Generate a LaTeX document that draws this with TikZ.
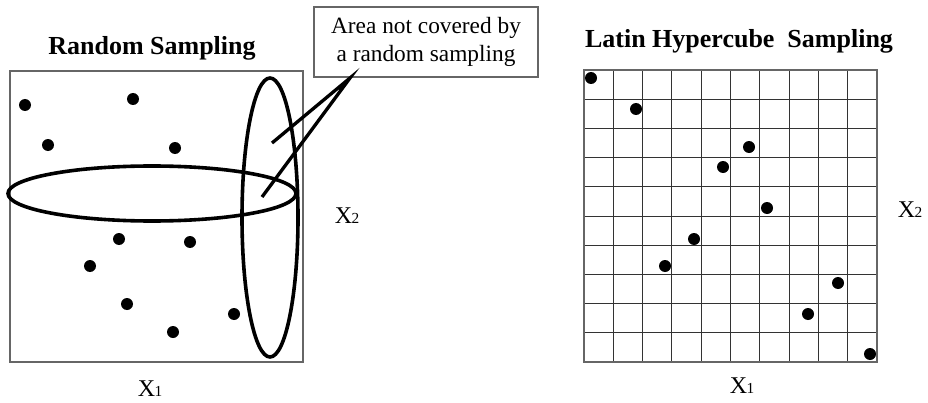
\documentclass[tikz,border=0pt]{standalone}
\usepackage{fontspec}
\usetikzlibrary{shapes.geometric}
\setmainfont{Liberation Serif}
\begin{document}
\begin{tikzpicture}[x=0.75pt,y=-0.75pt,
  frame/.style={draw=black!60,line width=0.8pt},
  gridline/.style={draw=black!80,line width=0.75pt},
  oval/.style={draw=black,line width=2.7pt},
  leader/.style={draw=black,line width=2.5pt},
  pt/.style={circle,fill=black,inner sep=0pt,minimum size=9pt},
  title/.style={font=\fontsize{19.5}{22}\selectfont\bfseries},
  axis/.style={font=\fontsize{18}{20}\selectfont,inner sep=0pt},
  note/.style={draw=black!60,line width=0.8pt,fill=white,font=\fontsize{17.5}{21}\selectfont,align=center,inner sep=0pt,minimum width=224*0.75pt,minimum height=70*0.75pt}
]
\useasboundingbox (0,0) rectangle (928,403);
\newcommand{\xsub}[1]{X\kern-0.5pt{\fontsize{11.5}{12}\selectfont #1}}
% ---------- left panel ----------
\node[title] (tl) at (152,48) {Random Sampling};
\draw[frame] (10,71) rectangle (303,362);
\node[pt] (a1) at (25,105) {};
\node[pt] (a2) at (133,99) {};
\node[pt] (a3) at (48,145) {};
\node[pt] (a4) at (175,148) {};
\node[pt] (a5) at (119,239) {};
\node[pt] (a6) at (190,242) {};
\node[pt] (a7) at (90,266) {};
\node[pt] (a8) at (127,304) {};
\node[pt] (a9) at (234,314) {};
\node[pt] (a10) at (173,332) {};
\node[oval,ellipse,minimum width=288*0.75pt,minimum height=55*0.75pt,inner sep=0pt] (eh) at (152,193.5) {};
\node[oval,ellipse,minimum width=56*0.75pt,minimum height=279*0.75pt,inner sep=0pt] (ev) at (270,217.5) {};
\node[note] (nt) at (426,42) {Area not covered by\\a random sampling};
\coordinate (tip) at (350,78);
\coordinate (e1) at (272,143);
\coordinate (e2) at (262,197);
\draw[leader] (e1) -- (tip) -- (e2);
\node[axis] (ly) at (347,216) {\xsub{2}};
\node[axis] (lx) at (150,389) {\xsub{1}};
% ---------- right panel ----------
\node[title] (tr) at (739,41) {Latin Hypercube\ \ Sampling};
\foreach \i in {1,...,9} {
  \draw[gridline] (584+29.3*\i,70) -- (584+29.3*\i,362);
  \draw[gridline] (584,70+29.2*\i) -- (877,70+29.2*\i);
}
\draw[frame] (584,70) rectangle (877,362);
\node[pt] (b1) at (591,78) {};
\node[pt] (b2) at (636,109) {};
\node[pt] (b3) at (749,147) {};
\node[pt] (b4) at (723,167) {};
\node[pt] (b5) at (767,208) {};
\node[pt] (b6) at (694,239) {};
\node[pt] (b7) at (665,266) {};
\node[pt] (b8) at (838,283) {};
\node[pt] (b9) at (808,314) {};
\node[pt] (b10) at (870,354) {};
\node[axis] (ry) at (910,210) {\xsub{2}};
\node[axis] (rx) at (742,386) {\xsub{1}};
\end{tikzpicture}
\end{document}
